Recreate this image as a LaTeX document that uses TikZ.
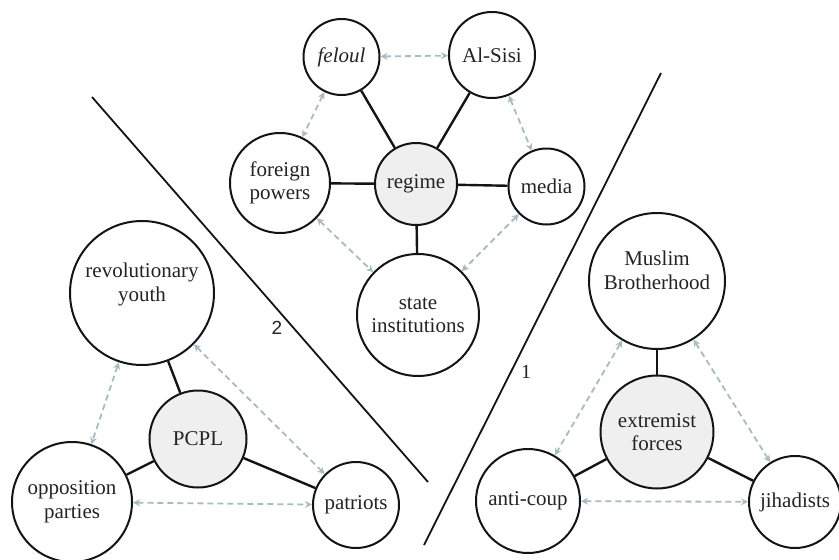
\documentclass[tikz,border=0pt]{standalone}
\usepackage{fontspec}
\setmainfont{Liberation Serif}
\newfontfamily\lsans{Liberation Sans}
\usetikzlibrary{arrows.meta}
\definecolor{txt}{RGB}{35,35,35}
\definecolor{ln}{RGB}{20,20,20}
\definecolor{dsh}{RGB}{165,188,195}
\definecolor{cfill}{RGB}{239,239,239}
\tikzset{
  nd/.style={circle,draw=ln,line width=2pt,inner sep=0pt,align=center,text=txt,
    font=\fontsize{21}{23.5}\selectfont},
  cen/.style={nd,fill=cfill},
  solidedge/.style={draw=ln,line width=2.4pt},
  dedge/.style={draw=dsh,line width=1.8pt,dash pattern=on 6pt off 4pt,
    {Stealth[length=7pt,width=7pt,fill=dsh]}-{Stealth[length=7pt,width=7pt,fill=dsh]}},
  divider/.style={draw=ln,line width=1.8pt},
}
\begin{document}
\begin{tikzpicture}[x=1pt,y=-1pt]
\useasboundingbox (0,0) rectangle (839,560);
% top cluster
\node[cen,minimum size=82pt] (reg) at (416,184) {regime};
\node[nd,minimum size=76pt] (fel) at (341.5,57) {\itshape feloul};
\node[nd,minimum size=86pt] (sisi) at (492,55) {Al-Sisi};
\node[nd,minimum size=100pt] (for) at (280,183) {foreign\\powers};
\node[nd,minimum size=76pt] (med) at (546.5,186.5) {media};
\node[nd,minimum size=122pt] (sta) at (418,315) {state\\institutions};
\foreach \n in {fel,sisi,for,med,sta} \draw[solidedge] (reg) -- (\n);
\draw[dedge] (fel) -- (sisi);
\draw[dedge] (fel) -- (for);
\draw[dedge] (sisi) -- (med);
\draw[dedge] (for) -- (sta);
\draw[dedge] (med) -- (sta);
% left cluster
\node[cen,minimum size=97pt] (pcpl) at (198,439) {PCPL};
\node[nd,minimum size=144pt] (you) at (142,293) {revolutionary\\youth\\[-2pt]\mbox{}};
\node[nd,minimum size=120pt] (opp) at (72,502) {opposition\\parties};
\node[nd,minimum size=86pt] (pat) at (356,505) {patriots};
\foreach \n in {you,opp,pat} \draw[solidedge] (pcpl) -- (\n);
\draw[dedge] (you) -- (opp);
\draw[dedge] (you) -- (pat);
\draw[dedge] (opp) -- (pat);
% right cluster
\node[cen,minimum size=113pt] (ext) at (657,432) {extremist\\forces};
\node[nd,minimum size=136pt] (mb) at (657,281) {Muslim\\Brotherhood\\[-2pt]\mbox{}};
\node[nd,minimum size=104pt] (anti) at (528,501) {anti-coup};
\node[nd,minimum size=92pt] (jih) at (795,502) {jihadists};
\foreach \n in {mb,anti,jih} \draw[solidedge] (ext) -- (\n);
\draw[dedge] (mb) -- (anti);
\draw[dedge] (mb) -- (jih);
\draw[dedge] (anti) -- (jih);
% dividers
\coordinate (d1a) at (661,73);
\coordinate (d1b) at (424,545);
\coordinate (d2a) at (92,97);
\coordinate (d2b) at (428,482);
\draw[divider] (d1a) -- (d1b);
\draw[divider] (d2a) -- (d2b);
\node[text=txt,font=\lsans\fontsize{19}{21}\selectfont] (l2) at (277,328) {2};
\node[text=txt,font=\fontsize{20}{22}\selectfont] (l1) at (526,372) {1};
\end{tikzpicture}
\end{document}
